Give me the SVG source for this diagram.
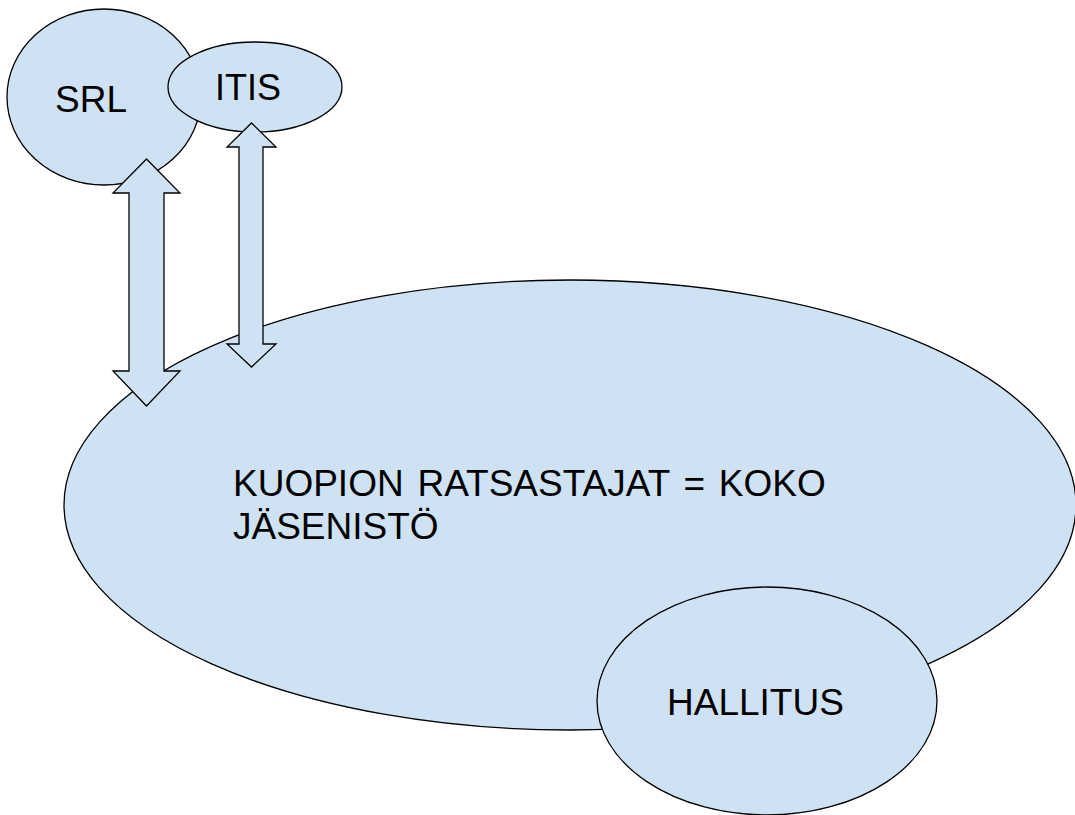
<svg xmlns="http://www.w3.org/2000/svg" width="1075" height="815" viewBox="0 0 1075 815">
<style>
.n{fill:#cfe2f3;stroke:#000;stroke-width:1.3}
.t{font-family:"Liberation Sans",Arial,sans-serif;font-size:37px;fill:#000}
.a{fill:#cfe2f3;stroke:#000;stroke-width:1.3;stroke-linejoin:miter}
</style>
<rect width="1075" height="815" fill="#fff"/>
<g id="kuopion">
<ellipse class="n" cx="570" cy="505" rx="506" ry="225"/>
<text class="t" x="233" y="496" word-spacing="3.5">KUOPION RATSASTAJAT = KOKO</text>
<text class="t" x="233" y="539">JÄSENISTÖ</text>
</g>
<g id="hallitus">
<ellipse class="n" cx="767" cy="701" rx="170" ry="114"/>
<text class="t" x="667" y="715">HALLITUS</text>
</g>
<g id="srl">
<ellipse class="n" cx="104" cy="97" rx="97" ry="88"/>
<text class="t" x="55" y="112">SRL</text>
</g>
<g id="itis">
<ellipse class="n" cx="255" cy="87" rx="87" ry="45"/>
<text class="t" x="215" y="100" style="font-size:36px">ITIS</text>
</g>
<g id="connectors">
<polygon class="a" points="146.5,159 180,193 164,193 164,371 180,371 146.5,406 113,371 129,371 129,193 113,193"/>
<polygon class="a" points="251.5,123 276,147 263,147 263,344 276,344 251.5,367 227,344 239,344 239,147 227,147"/>
</g>
</svg>
